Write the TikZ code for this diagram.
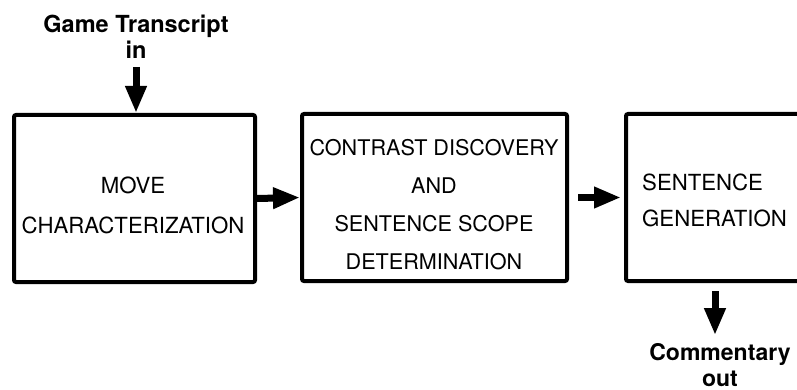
\documentclass[tikz,border=0pt]{standalone}
\usepackage{fontspec}
\setmainfont{TeX Gyre Heros}
\usetikzlibrary{arrows.meta}
\begin{document}
\begin{tikzpicture}[x=1pt,y=-1pt,
  box/.style={draw,line width=4pt,rounded corners=2pt,minimum height=167pt,inner sep=0pt},
  boxtext/.style={inner sep=0pt,font=\fontsize{22.2}{40}\selectfont},
  lbl/.style={inner sep=0pt,align=center,font=\fontsize{23.5}{26}\selectfont\bfseries},
  arr/.style={line width=7pt,-{Triangle[length=27pt,width=20pt]}}]
\useasboundingbox (0,0) rectangle (797,390);
\clip (0,0) rectangle (797,390);
\node[box,minimum width=241pt] (box1) at (134.5,198.5) {};
\node[box,minimum width=265pt] (box2) at (434.5,197.5) {};
\node[box,minimum width=204pt] (box3) at (728,197.5) {};
\node[boxtext,align=center] (t1) at (133,205) {MOVE\\CHARACTERIZATION};
\node[boxtext,align=center,font=\fontsize{21.6}{38}\selectfont] (t2) at (434,204.5) {CONTRAST DISCOVERY\\AND\\SENTENCE SCOPE\\DETERMINATION};
\node[boxtext,align=left,anchor=west,font=\fontsize{22.2}{36}\selectfont] (t3) at (642,200) {SENTENCE\\GENERATION};
\node[lbl] (game) at (136,37) {Game Transcript\\in};
\node[lbl,font=\fontsize{23}{26}\selectfont\bfseries] (comment) at (720,365) {Commentary\\out};
\coordinate (gin) at (136,67);
\draw[arr] (gin) -- (gin |- box1.north);
\draw[arr] (box1.east) -- (box2.west);
\draw[arr,shorten <=9pt,shorten >=3pt] (box2.east) -- (box3.west);
\draw[arr,shorten <=8pt,shorten >=8pt] ([xshift=-5pt]comment.north |- box3.south) -- ([xshift=-5pt]comment.north);
\end{tikzpicture}
\end{document}
